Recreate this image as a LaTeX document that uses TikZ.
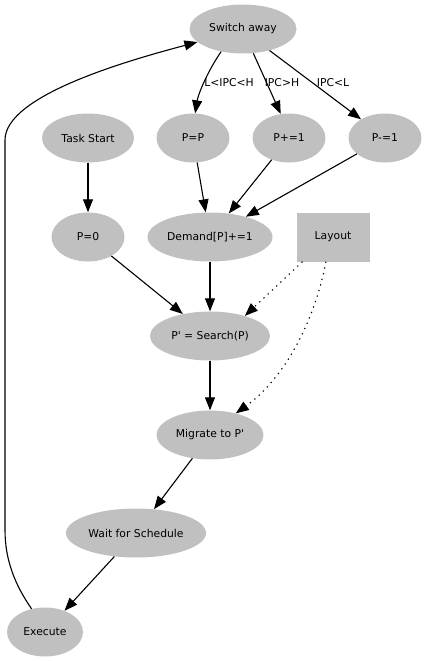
\documentclass[tikz,border=0pt]{standalone}
\usepackage{fontspec}
\setmainfont{DejaVu Sans}[Ligatures=TeXOff]
\usetikzlibrary{shapes.geometric,arrows.meta}
\definecolor{nodegray}{HTML}{C0C0C0}
\begin{document}
\begin{tikzpicture}[x=1pt,y=-1pt,
  every node/.style={font=\fontsize{10.8}{13}\selectfont},
  el/.style={ellipse,fill=nodegray,inner sep=0pt,minimum height=49pt},
  box/.style={rectangle,fill=nodegray,inner sep=0pt,minimum width=73pt,minimum height=49pt},
  lab/.style={inner sep=0pt},
  arr/.style={-{Triangle[length=13pt,width=10pt]},line width=1.1pt},
  dotedge/.style={arr,dash pattern=on 1.3pt off 4.5pt}]
\useasboundingbox (0,0) rectangle (427,661);
\node[el,minimum width=107pt] (sw) at (243,29) {Switch away};
\node[el,minimum width=73pt] (pp) at (193,138) {P=P};
\node[el,minimum width=73pt] (pl) at (289,138) {P+=1};
\node[el,minimum width=73pt] (pm) at (385,138) {P-=1};
\node[el,minimum width=92pt] (ts) at (88,138) {Task Start};
\node[el,minimum width=73pt] (p0) at (88,237) {P=0};
\node[el,minimum width=125pt] (dm) at (210,237) {Demand[P]+=1};
\node[box] (lay) at (333,237) {Layout};
\node[el,minimum width=120pt] (se) at (210,336) {P' = Search(P)};
\node[el,minimum width=107pt] (mg) at (210,435) {Migrate to P'};
\node[el,minimum width=140pt] (ws) at (136,533) {Wait for Schedule};
\node[el,minimum width=76pt] (ex) at (45,632) {Execute};
\node[lab] (l1) at (229,83) {L<IPC<H};
\node[lab] (l2) at (282,83) {IPC>H};
\node[lab] (l3) at (333,83) {IPC<L};
\draw[arr] (sw.226) .. controls (207,72) and (198,95) .. (pp.85);
\draw[arr] (sw.293) -- (pl.109);
\draw[arr] (sw.321) -- (pm.142);
\draw[arr] (ts) -- (p0);
\draw[arr] (pp) .. controls (201,185) .. (dm);
\draw[arr] (pl) -- (dm);
\draw[arr] (pm) -- (dm);
\draw[arr] (p0) -- (se);
\draw[arr] (dm) -- (se);
\draw[dotedge] (lay.219) -- (se.30);
\draw[dotedge] (lay.254) .. controls (315,320) and (285,378) .. (mg.40);
\draw[arr] (se) -- (mg);
\draw[arr] (mg) -- (ws);
\draw[arr] (ws) -- (ex);
\draw[arr] (ex.120) .. controls (15,585) and (5,560) .. (5,530) -- (5,140) .. controls (5,95) and (130,60) .. (sw.196);
\end{tikzpicture}
\end{document}
